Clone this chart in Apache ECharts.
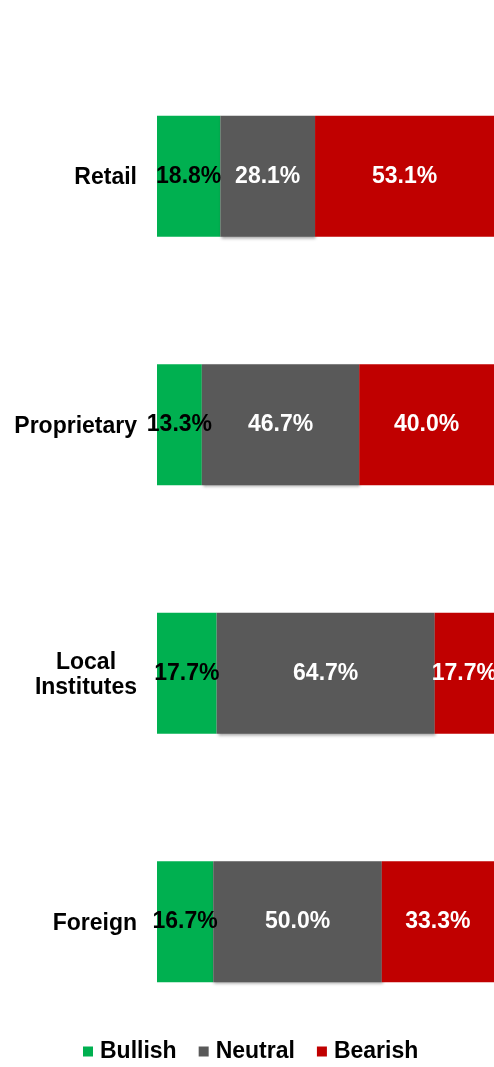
<!DOCTYPE html>
<html>
<head>
<meta charset="utf-8">
<script src="https://cdn.jsdelivr.net/npm/echarts@6/dist/echarts.min.js"></script>
<style>
html,body{margin:0;padding:0;background:#fff;}
#c{width:494px;height:1067px;}
</style>
</head>
<body>
<div id="c"></div>
<script>
const categories = ['Retail', 'Proprietary', 'Local Institutes', 'Foreign'];
const bullish = [18.8, 13.3, 17.7, 16.7];
const neutral = [28.1, 46.7, 64.7, 50.0];
const bearish = [53.1, 40.0, 17.7, 33.3];
const seriesNames = ['Bullish', 'Neutral', 'Bearish'];
const colors = ['#00B050', '#595959', '#C00000'];

const chart = echarts.init(document.getElementById('c'), null, {renderer: 'canvas'});
const font = 'Liberation Sans, Arial, sans-serif';
const fs = 23;

function mk(name, data, color, labelColor, extra) {
  return Object.assign({
    name: name,
    type: 'bar',
    stack: 'total',
    barWidth: 121,
    data: data,
    itemStyle: {color: color},
    label: {
      show: true,
      position: 'inside',
      formatter: p => p.value.toFixed(1) + '%',
      color: labelColor,
      fontFamily: font,
      fontWeight: 'bold',
      fontSize: fs
    },
    emphasis: {disabled: true}
  }, extra || {});
}

chart.setOption({
  animation: false,
  grid: {left: 157, right: 0, top: 52, bottom: 21, containLabel: false},
  xAxis: {type: 'value', min: 0, max: 100, show: false},
  yAxis: {
    type: 'category',
    inverse: true,
    data: categories,
    axisLine: {show: false},
    axisTick: {show: false},
    splitLine: {show: false},
    axisLabel: {
      margin: 20,
      color: '#000',
      fontFamily: font,
      fontWeight: 'bold',
      fontSize: fs,
      lineHeight: 25,
      padding: [3, 0, 0, 0],
      formatter: function (v) {
        const parts = v.split(' ');
        if (parts.length > 1) {
          return parts.map(p => '{c|' + p + '}').join('\n');
        }
        return v;
      },
      rich: {
        c: {
          width: 102,
          align: 'center',
          color: '#000',
          fontFamily: font,
          fontWeight: 'bold',
          fontSize: fs,
          lineHeight: 25
        }
      }
    }
  },
  legend: {
    data: seriesNames,
    top: 1035,
    left: 78,
    itemWidth: 10,
    itemHeight: 10,
    itemGap: 22,
    icon: 'rect',
    textStyle: {color: '#000', fontFamily: font, fontWeight: 'bold', fontSize: fs, padding: [0, 0, 0, 2]}
  },
  series: [
    mk(seriesNames[0], bullish, colors[0], '#000'),
    mk(seriesNames[1], neutral, colors[1], '#fff', {itemStyle: {color: colors[1], shadowBlur: 3, shadowOffsetX: 1, shadowOffsetY: 2, shadowColor: 'rgba(0,0,0,0.35)'}}),
    mk(seriesNames[2], bearish, colors[2], '#fff')
  ]
});
</script>
</body>
</html>
